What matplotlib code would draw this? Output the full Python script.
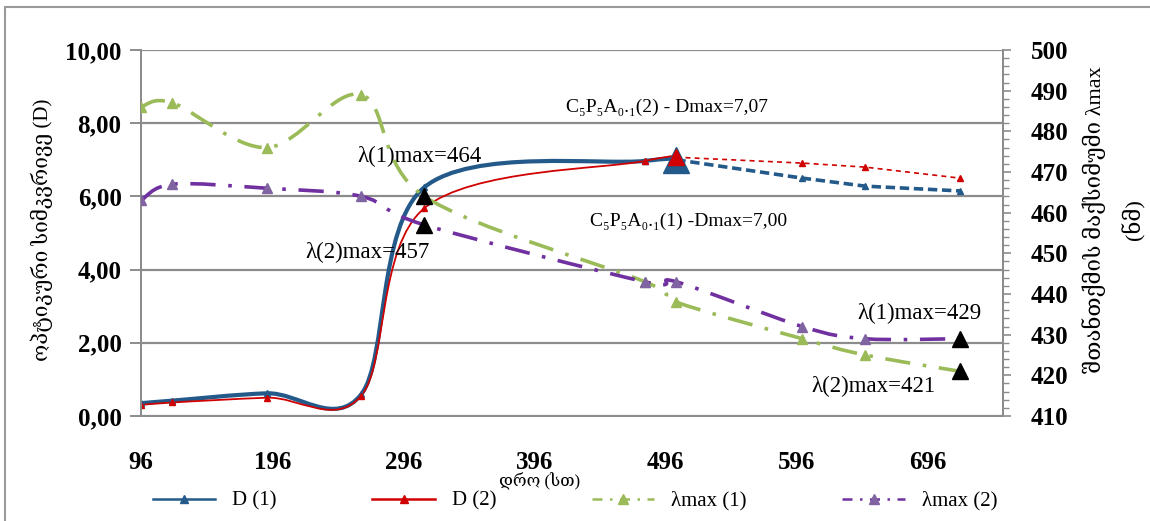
import numpy as np
import matplotlib
matplotlib.use("Agg")
from matplotlib import pyplot as plt
from matplotlib.path import Path
from matplotlib.patches import PathPatch, Rectangle
from matplotlib.lines import Line2D
from matplotlib.ticker import FuncFormatter, MultipleLocator

plt.rcParams['font.family'] = ['Liberation Serif', 'DejaVu Serif', 'DejaVu Sans']

# DATA
hours = [96, 120, 192, 264, 312, 480, 504, 600, 648, 720]
d1 = [0.35, 0.42, 0.62, 0.60, 6.25, 6.97, 7.00, 6.50, 6.28, 6.15]
d2 = [0.30, 0.37, 0.50, 0.56, 5.68, 6.97, 7.07, 6.91, 6.80, 6.50]
lam1 = [486, 487, 476, 489, 464, 443, 438, 429, 425, 421]
lam2 = [463, 467, 466, 464, 457, 443, 443, 432, 429, 429]
split = 6  # index of 504 h : smooth solid before, dashed after

# maxima marked in black
peak_hours = [312, 312, 720, 720]
peak_lam = [464, 457, 429, 421]

BLUE = "#245A8A"
RED = "#D00000"
GREEN = "#9BBB59"
PURPLE = "#7030A0"
GRID = "#8C8C8C"


def smooth_path(xs, ys):
    # excel-like smoothed line : cubic bezier through the points
    xs = np.asarray(xs, float)
    ys = np.asarray(ys, float)
    n = len(xs)
    verts = [(xs[0], ys[0])]
    codes = [Path.MOVETO]
    for i in range(n - 1):
        i0 = max(i - 1, 0)
        i3 = min(i + 2, n - 1)
        c1 = (xs[i] + (xs[i + 1] - xs[i0]) / 6., ys[i] + (ys[i + 1] - ys[i0]) / 6.)
        c2 = (xs[i + 1] - (xs[i3] - xs[i]) / 6., ys[i + 1] - (ys[i3] - ys[i]) / 6.)
        verts += [c1, c2, (xs[i + 1], ys[i + 1])]
        codes += [Path.CURVE4] * 3
    return Path(verts, codes)


fig = plt.figure(figsize=(11.5, 5.21), dpi=100)
ax = fig.add_axes([141 / 1150., 105 / 521., 862 / 1150., 366 / 521.])
ax2 = ax.twinx()

# frame of the chart
fig.patches.append(Rectangle((5 / 1150., -0.1), 1.2, 1.1 - 7 / 521.,
                             transform=fig.transFigure, fill=False,
                             edgecolor="#9A9A9A", linewidth=1.5))

# D curves (left axis)
ax.add_patch(PathPatch(smooth_path(hours[:split + 1], d1[:split + 1]),
                       fill=False, edgecolor=BLUE, linewidth=3.0, zorder=3))
ax.add_patch(PathPatch(smooth_path(hours[:split + 1], d2[:split + 1]),
                       fill=False, edgecolor=RED, linewidth=1.3, zorder=3))
ax.plot(hours[split:], d1[split:], color=BLUE, lw=2.6, dashes=(2.6, 1.3), zorder=3)
ax.plot(hours[split:], d2[split:], color=RED, lw=1.2, dashes=(3, 2.5), zorder=3)
ax.plot(hours, d1, "^", color=BLUE, ms=5, zorder=4)
ax.plot(hours, d2, "^", color=RED, ms=5, zorder=4)
ax.plot(hours[split], d1[split], "^", color=BLUE, ms=19, zorder=4)
ax.plot(hours[split], d2[split], "^", color=RED, ms=11, zorder=5)

# lambda max curves (right axis)
ax2.add_patch(PathPatch(smooth_path(hours, lam1), fill=False, edgecolor=GREEN,
                        linewidth=2.6, linestyle=(0, (7, 3.5, 1, 3.5)), zorder=2))
ax2.add_patch(PathPatch(smooth_path(hours, lam2), fill=False, edgecolor=PURPLE,
                        linewidth=2.6, linestyle=(0, (7, 3.5, 1, 3.5)), zorder=2))
ax2.plot(hours, lam1, "^", color=GREEN, ms=7, zorder=3)
ax2.plot(hours, lam2, "^", color="#8064A2", ms=7, zorder=3)
ax2.plot(peak_hours, peak_lam, "^", color="black", ms=11, zorder=5)

# axes limits / ticks
ax.set_xlim(96, 753)
ax.set_ylim(0, 10)
ax2.set_ylim(410, 500)
ax.set_xticks([96, 196, 296, 396, 496, 596, 696])
ax.yaxis.set_major_locator(MultipleLocator(2))
ax.yaxis.set_major_formatter(FuncFormatter(lambda v, p: ("%.2f" % v).replace(".", ",")))
ax2.yaxis.set_major_locator(MultipleLocator(10))
ax2.yaxis.set_minor_locator(MultipleLocator(2))

ax.grid(axis="y", color=GRID, linewidth=1.6)
ax.set_axisbelow(True)
for a in (ax, ax2):
    a.spines["top"].set_visible(False)
    for s in ("left", "right", "bottom"):
        a.spines[s].set_color(GRID)
        a.spines[s].set_linewidth(1.4)
ax.tick_params(axis="y", length=8, color=GRID, width=1.4, pad=6, labelsize=18)
ax.tick_params(axis="x", length=0, pad=25, labelsize=18)
ax2.tick_params(axis="y", which="major", length=6, color=GRID, width=1.2, pad=14, labelsize=18)
ax2.tick_params(axis="y", which="minor", length=4, color=GRID, width=1.0)
for lab in ax.get_xticklabels() + ax.get_yticklabels() + ax2.get_yticklabels():
    lab.set_fontweight("bold")

# axis titles
fig.text(42 / 1150., 1 - 230 / 521., "ოპტიკური სიმკვრივე (D)", rotation=90,
         ha="center", va="center", fontsize=15)
fig.text(1114 / 1150., 1 - 220 / 521., "შთანთქმის მაქსიმუმი λmax\n(ნმ)",
         rotation=90, ha="center", va="center", fontsize=16,
         multialignment="center", linespacing=1.9)
fig.text(540 / 1150., 1 - 481 / 521., "დრო (სთ)", ha="center", va="center", fontsize=12)

# annotations
ax.text(420, 8.44, "C₅P₅A₀.₁(2) - Dmax=7,07", ha="left", va="center", fontsize=14)
ax.text(438, 5.33, "C₅P₅A₀.₁(1) -Dmax=7,00", ha="left", va="center", fontsize=14)
ax.text(261, 7.08, "λ(1)max=464", ha="left", va="center", fontsize=16.5)
ax.text(221, 4.48, "λ(2)max=457", ha="left", va="center", fontsize=16.5)
ax.text(642, 2.79, "λ(1)max=429", ha="left", va="center", fontsize=16.5)
ax.text(607, 0.82, "λ(2)max=421", ha="left", va="center", fontsize=16.5)

# legend
handles = [
    Line2D([], [], color=BLUE, lw=1.8, marker="^", ms=6),
    Line2D([], [], color=RED, lw=1.8, marker="^", ms=6),
    Line2D([], [], color=GREEN, lw=1.8, marker="^", ms=7, dashes=(4, 3, 1, 3)),
    Line2D([], [], color=PURPLE, lw=1.8, marker="^", ms=7, markerfacecolor="#8064A2",
           markeredgecolor="#8064A2", dashes=(4, 3, 1, 3)),
]
labels = ["D (1)", "D (2)", "λmax (1)", "λmax (2)"]
fig.legend(handles, labels, loc="center", bbox_to_anchor=(575 / 1150., 20 / 521.),
           ncol=4, frameon=False, fontsize=15, handlelength=3.0, columnspacing=4.6)

fig.savefig("out.png", dpi=100)
plt.close("all")
